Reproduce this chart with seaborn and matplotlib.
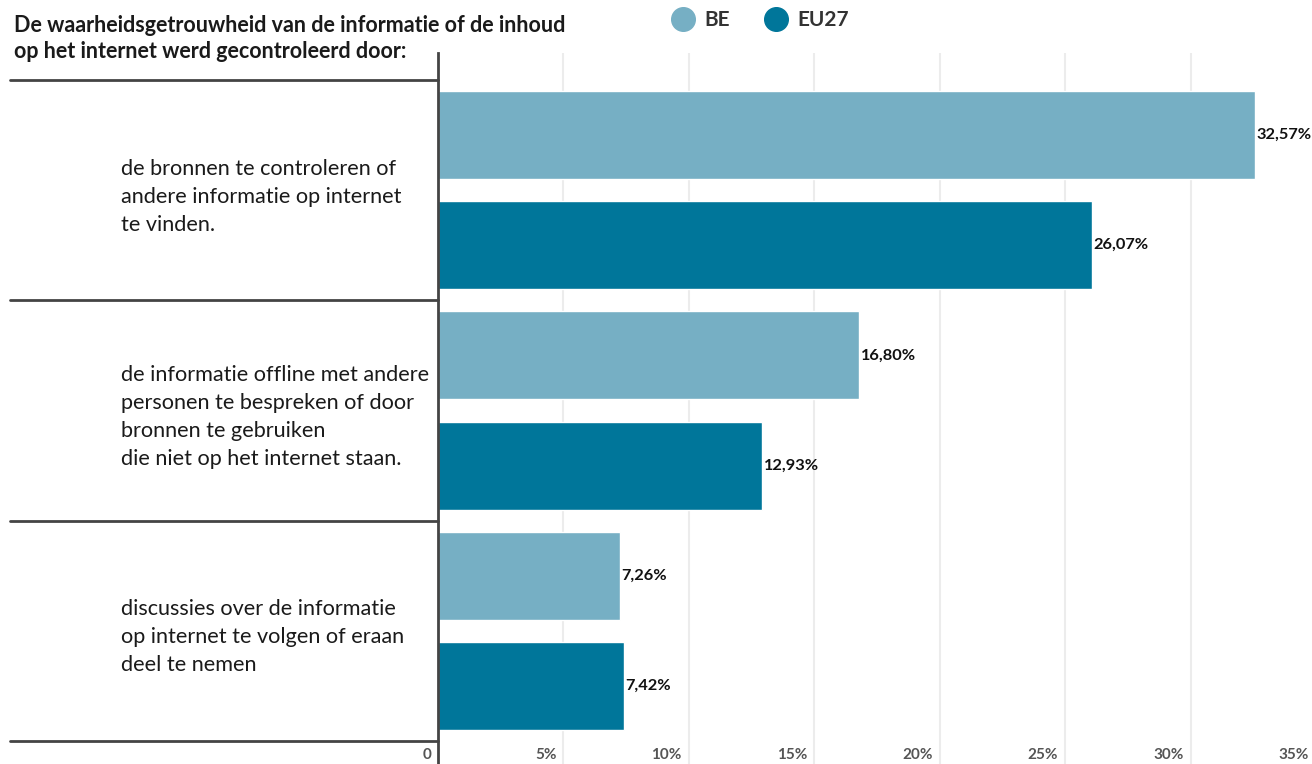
import pandas as pd
import numpy as np
import matplotlib.pyplot as plt
import matplotlib.transforms as mtransforms
from matplotlib.lines import Line2D
import seaborn as sns

# data
categories = [
    "de bronnen te controleren of\nandere informatie op internet\nte vinden.",
    "de informatie offline met andere\npersonen te bespreken of door\nbronnen te gebruiken\ndie niet op het internet staan.",
    "discussies over de informatie\nop internet te volgen of eraan\ndeel te nemen",
]
series = ["BE", "EU27"]
be_values = [32.57, 16.80, 7.26]
eu_values = [26.07, 12.93, 7.42]
tick_values = [0, 5, 10, 15, 20, 25, 30, 35]
tick_labels = ["0", "5%", "10%", "15%", "20%", "25%", "30%", "35%"]
title = "De waarheidsgetrouwheid van de informatie of de inhoud\nop het internet werd gecontroleerd door:"

colors = {"BE": "#76AFC4", "EU27": "#00769A"}

rows = []
for i, cat in enumerate(categories):
    rows.append({"cat": cat, "series": "BE", "value": be_values[i]})
    rows.append({"cat": cat, "series": "EU27", "value": eu_values[i]})
df = pd.DataFrame(rows)

sns.set_theme(style="white")
plt.rcParams["font.family"] = ["Lato", "DejaVu Sans"]

W, H = 1312, 764
fig = plt.figure(figsize=(W / 100, H / 100), dpi=100)
ax = fig.add_axes([438 / W, 0, (1316 - 438) / W, 1 - 53 / H])

sns.barplot(data=df, y="cat", x="value", hue="series", palette=colors,
            orient="h", width=1.0, gap=0.2, saturation=1, ax=ax, legend=False, zorder=3)

ax.set_xlim(0, 35)
ax.set_ylim(2.5 + 23 / 220.33, -0.5 - 27 / 220.33)
ax.set_xlabel("")
ax.set_ylabel("")
ax.set_xticks([])
ax.set_yticks([])
for s in ["top", "right", "bottom"]:
    ax.spines[s].set_visible(False)
ax.spines["left"].set_color("#444444")
ax.spines["left"].set_linewidth(2)
ax.spines["left"].set_zorder(5)

# gridlines + tick labels inside the axes at the bottom
for t, lab in zip(tick_values, tick_labels):
    if t > 0:
        ax.axvline(t, color="#ececec", lw=1.5, zorder=0)
    ax.annotate(lab, xy=(t, (764 - 755) / 711), xycoords=ax.get_xaxis_transform(),
                xytext=(-5, 0), textcoords="offset points", ha="right", va="center",
                fontsize=11, fontweight="bold", color="#555555", annotation_clip=False)

# value labels
for cont in ax.containers:
    vals = [b.get_width() for b in cont]
    ax.bar_label(cont, labels=[f"{v:.2f}".replace(".", ",") + "%" for v in vals],
                 padding=1, fontsize=11.8, fontweight="bold", color="#111111")

# row separators and category labels on the left
blend = mtransforms.blended_transform_factory(fig.transFigure, ax.transData)
for b in np.arange(len(categories) + 1) - 0.5:
    fig.add_artist(Line2D([10 / W, 438 / W], [b, b], transform=blend,
                          color="#444444", lw=2))
for i, cat in enumerate(categories):
    fig.text(121 / W, i + 0.03, cat, transform=blend, ha="left", va="center",
             fontsize=15.6, color="#1a1a1a", linespacing=1.5)

fig.text(14 / W, 1 - 15 / H, title, ha="left", va="top", fontsize=15.5,
         fontweight="bold", color="#1a1a1a", linespacing=1.28)

handles = [Line2D([], [], marker="o", ls="", markersize=17,
                  markerfacecolor=colors[s], markeredgecolor=colors[s]) for s in series]
fig.legend(handles, series, loc="center left", bbox_to_anchor=(643 / W, 1 - 20 / H),
           ncol=2, frameon=False, handletextpad=0.05, columnspacing=1.2,
           prop={"weight": "bold", "size": 15}, labelcolor="#333333")

fig.savefig("out.png", dpi=100)
